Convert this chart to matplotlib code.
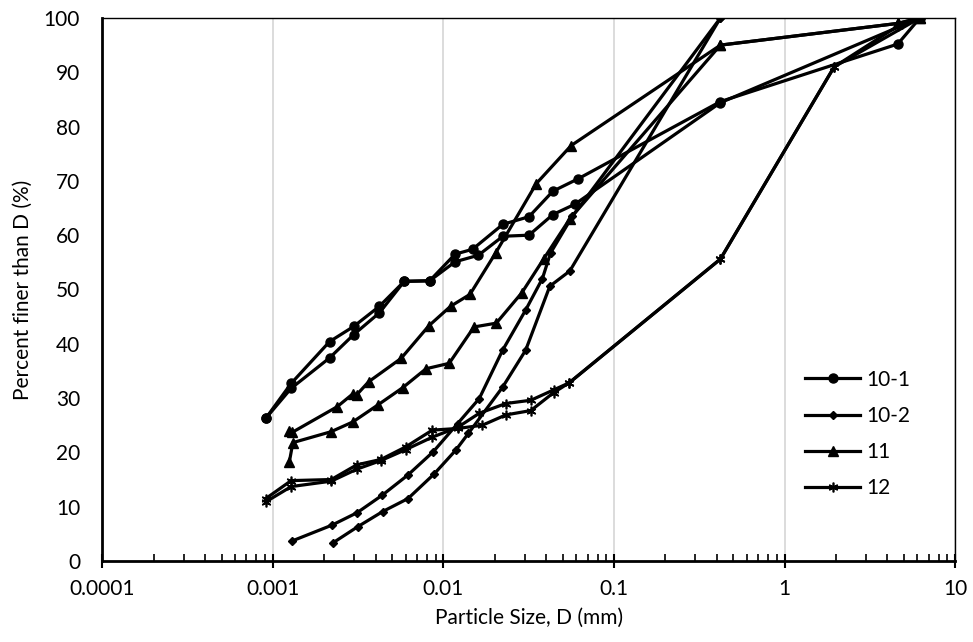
import matplotlib
matplotlib.use("Agg")
import matplotlib.pyplot as plt
from matplotlib.ticker import LogLocator, FixedLocator, NullFormatter

# particle size (mm) and percent finer, two tests per sample
size_101a = [0.00091, 0.00128, 0.00215, 0.00298, 0.00421, 0.00589, 0.0083, 0.0117, 0.0148,
             0.0223, 0.0317, 0.0438, 0.0617, 0.42, 4.6, 6.2]
pf_101a = [26.3, 32.7, 40.4, 43.2, 46.9, 51.5, 51.6, 56.5, 57.4, 62.0, 63.4, 68.1, 70.4, 84.6, 95.2, 100]
size_101b = [0.00091, 0.00128, 0.00215, 0.00298, 0.00421, 0.00589, 0.0083, 0.0117, 0.016,
             0.0223, 0.0317, 0.0438, 0.0589, 0.42, 6.2]
pf_101b = [26.3, 31.8, 37.4, 41.7, 45.7, 51.5, 51.6, 55.1, 56.3, 59.8, 60.0, 63.8, 65.7, 84.4, 100]

size_102a = [0.0013, 0.00222, 0.00312, 0.00437, 0.00617, 0.0087, 0.0121, 0.0162, 0.0222,
             0.0303, 0.038, 0.0424, 0.057, 0.42]
pf_102a = [3.7, 6.6, 8.9, 12.1, 15.8, 20.1, 25.3, 29.9, 38.8, 46.2, 52.0, 56.7, 63.5, 100]
size_102b = [0.00224, 0.00314, 0.0044, 0.0062, 0.0088, 0.0118, 0.014, 0.0222, 0.0303,
             0.042, 0.055, 0.42]
pf_102b = [3.3, 6.3, 9.1, 11.5, 16.0, 20.4, 23.5, 32.0, 38.8, 50.6, 53.4, 100]

size_11a = [0.00125, 0.0013, 0.00238, 0.00295, 0.0031, 0.00364, 0.00564, 0.0082, 0.011,
            0.0143, 0.0202, 0.035, 0.056, 0.42, 4.6, 6.2]
pf_11a = [23.9, 23.7, 28.4, 30.8, 30.6, 33.0, 37.3, 43.3, 46.9, 49.1, 56.7, 69.5, 76.5, 95.0, 99.0, 100]
size_11b = [0.00125, 0.00131, 0.00219, 0.00294, 0.00411, 0.00576, 0.0079, 0.0108, 0.0151,
            0.0204, 0.0288, 0.0388, 0.055, 0.42, 4.6, 6.2]
pf_11b = [18.3, 21.8, 23.8, 25.6, 28.7, 31.9, 35.4, 36.4, 43.1, 43.8, 49.4, 55.7, 63.0, 95.0, 99.0, 100]

size_12a = [0.00091, 0.00128, 0.0022, 0.0031, 0.0043, 0.006, 0.0086, 0.0121, 0.0169, 0.0232,
            0.0325, 0.0442, 0.0545, 0.42, 1.95, 6.2]
pf_12a = [11.5, 14.8, 15.0, 17.7, 18.7, 21.0, 24.1, 24.4, 25.0, 26.9, 27.7, 31.0, 32.8, 55.6, 91.0, 100]
size_12b = [0.00091, 0.00128, 0.0022, 0.0031, 0.0043, 0.006, 0.0086, 0.0121, 0.0162, 0.0232,
            0.0325, 0.0442, 0.0545, 0.42, 1.95, 4.6, 6.2]
pf_12b = [10.9, 13.7, 14.7, 16.9, 18.5, 20.5, 22.8, 24.6, 27.2, 29.0, 29.6, 31.5, 32.8, 55.6, 91.0, 98.5, 100]

x_ticks = [0.0001, 0.001, 0.01, 0.1, 1, 10]
x_labels = ["0.0001", "0.001", "0.01", "0.1", "1", "10"]
y_ticks = list(range(0, 101, 10))

plt.rcParams['font.family'] = ['Lato', 'DejaVu Sans']

fig, ax = plt.subplots(figsize=(9.73, 6.42), dpi=100)
fig.subplots_adjust(left=0.1051, right=0.9818, bottom=0.1262, top=0.972)

lw = 2.3
style = dict(color='black', lw=lw, markeredgecolor='black', markerfacecolor='black')

ax.plot(size_101a, pf_101a, marker='o', ms=6.5, label='10-1', **style)
ax.plot(size_101b, pf_101b, marker='o', ms=6.5, **style)
ax.plot(size_102a, pf_102a, marker='D', ms=4, label='10-2', **style)
ax.plot(size_102b, pf_102b, marker='D', ms=4, **style)
ax.plot(size_11a, pf_11a, marker='^', ms=6.5, label='11', **style)
ax.plot(size_11b, pf_11b, marker='^', ms=6.5, **style)
ax.plot(size_12a, pf_12a, marker=(6, 2, 0), ms=7, mew=1.2, label='12', **style)
ax.plot(size_12b, pf_12b, marker=(6, 2, 0), ms=7, mew=1.2, **style)

ax.set_xscale('log')
ax.set_xlim(1e-4, 10)
ax.set_ylim(0, 100)
ax.xaxis.set_major_locator(FixedLocator(x_ticks))
ax.set_xticklabels(x_labels)
ax.xaxis.set_minor_locator(LogLocator(base=10, subs=range(2, 10)))
ax.xaxis.set_minor_formatter(NullFormatter())
ax.set_yticks(y_ticks)

ax.tick_params(labelsize=15, colors='black')
ax.tick_params(axis='x', which='major', direction='inout', length=10, width=1.5, pad=8)
ax.tick_params(axis='x', which='minor', direction='in', length=5, width=1.2)
ax.tick_params(axis='y', length=0, pad=16)

ax.xaxis.grid(True, which='major', color='#d9d9d9', lw=1.3)
ax.set_axisbelow(True)

for side in ['left', 'bottom']:
    ax.spines[side].set_linewidth(2)
for side in ['top', 'right']:
    ax.spines[side].set_linewidth(1)

ax.set_xlabel("Particle Size, D (mm)", fontsize=15, labelpad=6)
ax.set_ylabel("Percent finer than D (%)", fontsize=15, labelpad=8)

ax.legend(loc='center left', bbox_to_anchor=(0.824, 0.234), frameon=False, fontsize=15,
          handlelength=2.65, handletextpad=0.3, labelspacing=0.78, borderpad=0,
          borderaxespad=0, numpoints=1)

plt.savefig('out.png', dpi=100)
plt.close()
